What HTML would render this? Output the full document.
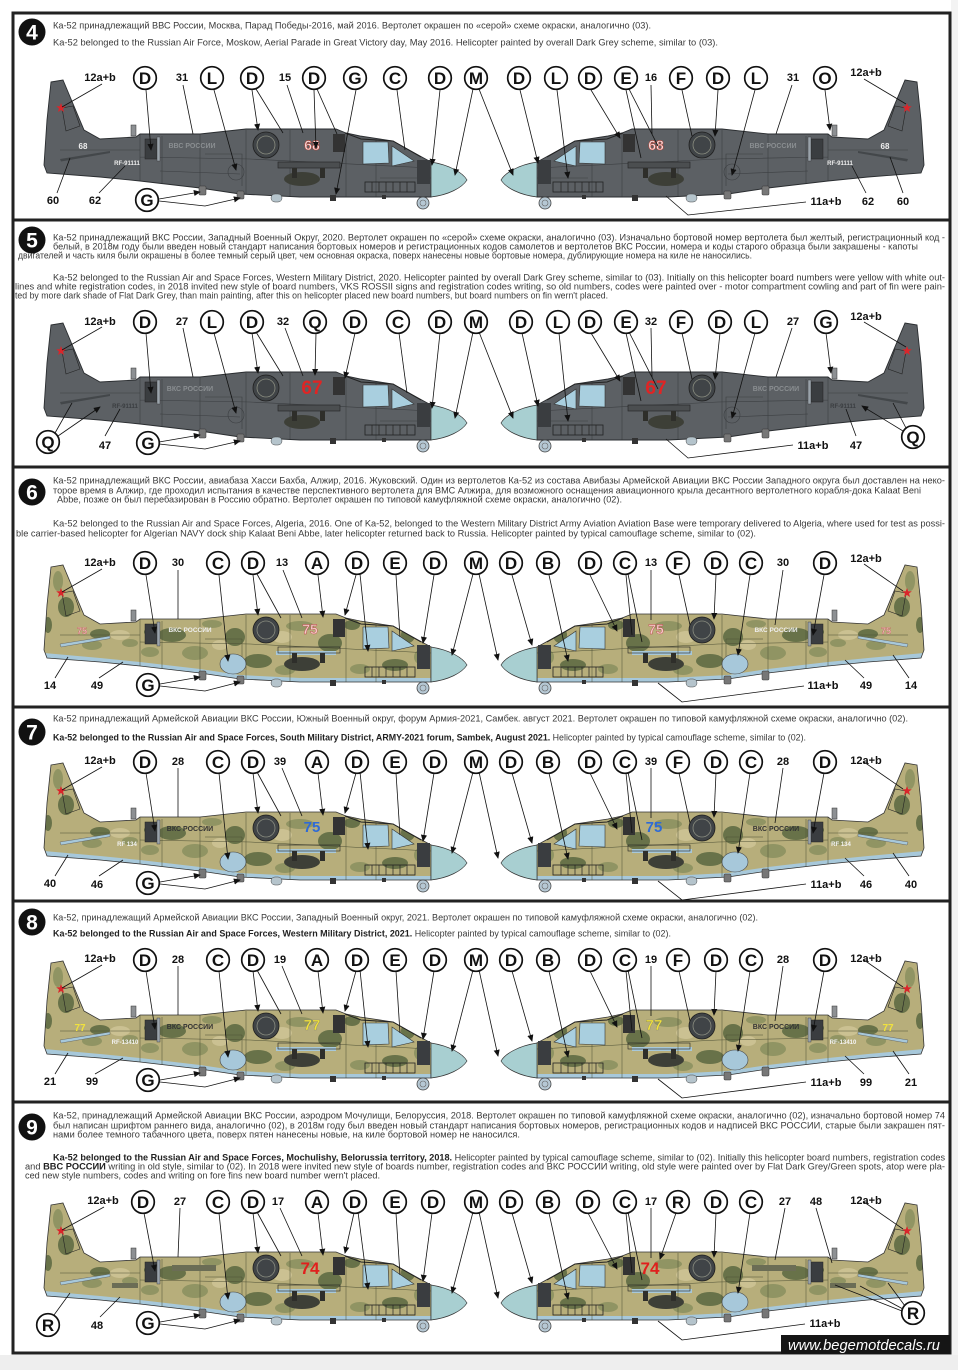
<!DOCTYPE html>
<html><head><meta charset="utf-8">
<style>
html,body{margin:0;padding:0;background:#fff;}
svg{display:block}
.t{font-family:"Liberation Sans","Noto Sans CJK SC",sans-serif;font-size:9px;fill:#3a3a3a}
.tb{font-weight:bold;fill:#222}
.c circle{fill:#fff;stroke:#111;stroke-width:1.7}
.c text{font-family:"Liberation Sans",sans-serif;font-weight:bold;font-size:17px;text-anchor:middle;fill:#111}
.n{font-family:"Liberation Sans",sans-serif;font-weight:bold;font-size:11px;text-anchor:middle;fill:#111}
.l{stroke:#111;stroke-width:0.8;fill:none}
.a{marker-end:url(#ar)}
.bd circle{fill:#111}
.bd text{font-family:"Liberation Sans",sans-serif;font-weight:bold;font-size:21px;fill:#fff;text-anchor:middle}
.bn{font-family:"Liberation Sans",sans-serif;font-weight:bold;text-anchor:middle}
.sm{font-family:"Liberation Sans",sans-serif;font-weight:bold;text-anchor:middle}
</style></head><body>
<svg width="958" height="1370" viewBox="0 0 958 1370" xmlns="http://www.w3.org/2000/svg">
<defs>
<marker id="ar" viewBox="0 0 8 8" refX="7" refY="4" markerWidth="7" markerHeight="7" orient="auto" markerUnits="userSpaceOnUse"><path d="M0,0.5 L8,4 L0,7.5 Z" fill="#111"/></marker>
<path id="ol" d="M51,82 L63,80 L84,130 L100,139 L136,137 L140,134 L200,134 L246,129 L336,129 L346,133 L360,136 L393,141 L420,156 L431,162 L431,197 L300,197 L240,194 L200,188 L140,181 L100,177 L47,173 L44,165 L47,120 Z"/>
<clipPath id="cl"><use href="#ol"/></clipPath>
<g id="det">
 <path d="M62,108 L73,106 L80,126 L66,131 Z" fill="none" stroke="#222" stroke-width="0.6"/>
 <rect x="131" y="125" width="5" height="11" fill="#8d9093" stroke="#333" stroke-width="0.5"/>
 <rect x="145" y="139" width="12" height="20" fill="#3a3d40" stroke="#222" stroke-width="0.5"/>
 <rect x="157" y="137" width="3" height="24" fill="#9aa3ab" stroke="#333" stroke-width="0.4"/>
 <circle cx="266" cy="145" r="13" fill="#404447" stroke="#1e1e1e" stroke-width="0.8"/>
 <circle cx="266" cy="145" r="9" fill="none" stroke="#8a8d80" stroke-width="0.8"/>
 <rect x="333" y="134" width="12" height="18" fill="#333"/>
 <rect x="278" y="162" width="62" height="6" fill="none" stroke="#222" stroke-width="0.6"/>
 <ellipse cx="302" cy="179" rx="18" ry="7" fill="#3d3f37"/>
 <rect x="292" y="168" width="5" height="10" fill="#2e2e2a"/>
 <rect x="320" y="168" width="5" height="10" fill="#2e2e2a"/>
 <rect x="365" y="182" width="50" height="10" fill="none" stroke="#222" stroke-width="0.8"/>
 <path d="M372,182 V192 M379,182 V192 M386,182 V192 M393,182 V192 M400,182 V192 M407,182 V192" stroke="#222" stroke-width="0.7"/>
 <rect x="417" y="160" width="13" height="24" fill="#3a3d40"/>
 <path d="M345,133 L361,139 L393,141 L421,157" fill="none" stroke="#222" stroke-width="1"/>
 <path d="M363,142 L388,142 L389,163 L363,164 Z" fill="#a9cfdf" stroke="#333" stroke-width="0.6"/>
 <path d="M392,146 L414,161 L392,166 Z" fill="#a9cfdf" stroke="#333" stroke-width="0.6"/>
 <path d="M431,162 C450,165 463,173 467,180 C462,188 448,195 431,197 Z" fill="#a8cfd1" stroke="#333" stroke-width="0.7"/>
 <rect x="199" y="186" width="7" height="9" rx="1" fill="#777" stroke="#333" stroke-width="0.5"/>
 <rect x="237" y="191" width="7" height="8" rx="1" fill="#777" stroke="#333" stroke-width="0.5"/>
 <rect x="271" y="194" width="11" height="8" rx="4" fill="#b5c4cc" stroke="#444" stroke-width="0.5"/>
 <rect x="330" y="195" width="6" height="6" fill="#333"/>
 <rect x="382" y="195" width="4" height="4" fill="#333"/>
 <circle cx="423" cy="203" r="6" fill="#b6c8d4" stroke="#444" stroke-width="0.8"/>
 <circle cx="423" cy="203" r="3" fill="none" stroke="#666" stroke-width="0.6"/>
 <polygon points="61,103 62.2,106.3 65.8,106.4 63,108.5 64,112 61,110 58,112 59,108.5 56.2,106.4 59.8,106.3" fill="#d9262b"/>
</g>
<g id="hg">
 <use href="#ol" fill="#5c6064"/>
 <g clip-path="url(#cl)" fill="none" stroke="#3b3e41" stroke-width="0.6">
  <path d="M140,134 V182 M162,136 V184 M200,134 V188 M246,130 V194 M290,130 V197 M346,133 V197 M376,140 V197 M60,150 H140 M140,157 L250,159 L431,168 M160,171 L240,174 M205,154 H242 V186 M380,178 H431"/>
  <circle cx="236" cy="172" r="8"/>
  <rect x="278" y="162" width="62" height="6" fill="#4b4e50" stroke="none"/>
 </g>
 <path d="M60,159 L110,151 L110,153 L61,161.5 Z" fill="#43474a"/>
 <use href="#ol" fill="none" stroke="#2a2d30" stroke-width="0.9"/>
 <use href="#det"/>
</g>
<g id="hc">
 <use href="#ol" fill="#b7ae7b"/>
 <g clip-path="url(#cl)">
  <g fill="#cbc192">
   <ellipse cx="120" cy="150" rx="10" ry="5"/><ellipse cx="282" cy="152" rx="10" ry="6"/><ellipse cx="220" cy="160" rx="8" ry="5"/>
  </g>
  <g fill="#909463">
   <ellipse cx="58" cy="96" rx="5" ry="10"/><ellipse cx="92" cy="160" rx="10" ry="5"/><ellipse cx="150" cy="167" rx="9" ry="5"/>
   <ellipse cx="195" cy="168" rx="13" ry="7"/><ellipse cx="212" cy="139" rx="10" ry="4"/><ellipse cx="300" cy="141" rx="14" ry="5"/>
   <ellipse cx="374" cy="152" rx="10" ry="7"/><ellipse cx="360" cy="184" rx="10" ry="5"/><ellipse cx="130" cy="158" rx="8" ry="4"/>
   <ellipse cx="285" cy="185" rx="10" ry="5"/><ellipse cx="420" cy="172" rx="6" ry="7"/>
  </g>
  <g fill="#687249">
   <ellipse cx="66" cy="122" rx="8" ry="10"/><ellipse cx="100" cy="149" rx="10" ry="5"/><ellipse cx="172" cy="150" rx="14" ry="7"/>
   <ellipse cx="235" cy="152" rx="10" ry="9"/><ellipse cx="258" cy="176" rx="14" ry="7"/><ellipse cx="330" cy="158" rx="12" ry="9"/>
   <ellipse cx="395" cy="180" rx="13" ry="6"/><ellipse cx="408" cy="150" rx="7" ry="8"/><ellipse cx="48" cy="140" rx="4" ry="8"/>
   <ellipse cx="150" cy="147" rx="6" ry="4"/><ellipse cx="352" cy="140" rx="8" ry="5"/>
  </g>
  <path d="M44,168 L100,173 L140,177 L200,184 L240,190 L300,193 L431,193 L431,200 L40,200 Z" fill="#a7c8da"/>
  <rect x="276" y="166" width="60" height="4" fill="#a7c8da"/>
  <g fill="none" stroke="#4d5035" stroke-width="0.5">
   <path d="M140,134 V182 M162,136 V184 M200,134 V188 M246,130 V194 M290,130 V197 M346,133 V197 M376,140 V197 M60,150 H140 M140,157 L250,159 L431,168 M205,154 H242 V186"/>
  </g>
 </g>
 <path d="M60,159 L110,151 L110,153.5 L61,162 Z" fill="#a7c8da" stroke="#555" stroke-width="0.4"/>
 <ellipse cx="233" cy="179" rx="13" ry="10" fill="#a7c8da" stroke="#444" stroke-width="0.6"/>
 <use href="#ol" fill="none" stroke="#333" stroke-width="0.8"/>
 <use href="#det"/>
</g>
</defs>

<rect x="0" y="0" width="958" height="1370" fill="#fff"/>
<rect x="951" y="0" width="7" height="1370" fill="#f3f3f3"/>
<rect x="0" y="1355" width="958" height="15" fill="#eeeeee"/>
<rect x="13" y="13" width="937" height="1340" fill="#fff" stroke="#222" stroke-width="3"/>
<g stroke="#222" stroke-width="3">
 <line x1="13" y1="220" x2="950" y2="220"/>
 <line x1="13" y1="467" x2="950" y2="467"/>
 <line x1="13" y1="707" x2="950" y2="707"/>
 <line x1="13" y1="901" x2="950" y2="901"/>
 <line x1="13" y1="1102" x2="950" y2="1102"/>
</g>

<!-- Badges -->
<g class="bd">
 <circle cx="32" cy="32" r="13.5"/><text x="32" y="39.5">4</text>
 <circle cx="32" cy="240" r="13.5"/><text x="32" y="247.5">5</text>
 <circle cx="32" cy="492" r="13.5"/><text x="32" y="499.5">6</text>
 <circle cx="32" cy="732" r="13.5"/><text x="32" y="739.5">7</text>
 <circle cx="32" cy="922" r="13.5"/><text x="32" y="929.5">8</text>
 <circle cx="32" cy="1127" r="13.5"/><text x="32" y="1134.5">9</text>
</g>

<!-- Header texts -->
<g class="t">
<text x="53" y="28.5" textLength="598" lengthAdjust="spacingAndGlyphs">Ка-52 принадлежащий ВВС России, Москва, Парад Победы-2016, май 2016. Вертолет окрашен по «серой» схеме окраски, аналогично (03).</text>
<text x="53" y="45.5" textLength="665" lengthAdjust="spacingAndGlyphs">Ka-52 belonged to the Russian Air Force, Moskow, Aerial Parade in Great Victory day, May 2016. Helicopter painted by overall Dark Grey scheme, similar to (03).</text>

<text x="53" y="240.5" textLength="892" lengthAdjust="spacingAndGlyphs">Ка-52 принадлежащий ВКС России, Западный Военный Округ, 2020. Вертолет окрашен по «серой» схеме окраски, аналогично (03). Изначально бортовой номер вертолета был желтый, регистрационный код -</text>
<text x="53" y="249.5" textLength="865" lengthAdjust="spacingAndGlyphs">белый, в 2018м году были введен новый стандарт написания бортовых номеров и регистрационных кодов самолетов и вертолетов ВКС России, номера и коды старого образца были закрашены -  капоты</text>
<text x="18" y="258.5" textLength="734" lengthAdjust="spacingAndGlyphs">двигателей и часть киля были окрашены в более темный серый цвет, чем основная окраска, поверх нанесены новые бортовые номера, дублирующие номера на киле не наносились.</text>
<text x="53" y="280.5" textLength="892" lengthAdjust="spacingAndGlyphs">Ka-52 belonged to the Russian Air and Space Forces, Western Military District, 2020. Helicopter painted by overall Dark Grey scheme, similar to (03). Initially on this helicopter board numbers were yellow with white out-</text>
<text x="15" y="289.5" textLength="930" lengthAdjust="spacingAndGlyphs">lines and white registration codes, in 2018 invited new style of board numbers, VKS ROSSII signs and registration codes writing, so old numbers, codes were painted over -  motor compartment cowling and part of fin were pain-</text>
<text x="15" y="298.5" textLength="593" lengthAdjust="spacingAndGlyphs">ted by more dark shade of Flat Dark Grey, than main painting, after this on helicopter placed new board numbers, but board numbers on fin wern't placed.</text>

<text x="53" y="483.5" textLength="892" lengthAdjust="spacingAndGlyphs">Ка-52 принадлежащий ВКС России, авиабаза Хасси Бахба, Алжир, 2016. Жуковский. Один из вертолетов Ка-52 из состава Авибазы Армейской Авиации ВКС России Западного округа был доставлен на неко-</text>
<text x="53" y="493.5" textLength="868" lengthAdjust="spacingAndGlyphs">торое время в Алжир, где проходил испытания в качестве перспективного вертолета для ВМС Алжира, для возможного оснащения авиационного крыла десантного вертолетного корабля-дока Kalaat Beni</text>
<text x="57" y="502.5" textLength="565" lengthAdjust="spacingAndGlyphs">Abbe, позже он был перебазирован в Россию обратно. Вертолет окрашен по типовой камуфляжной схеме окраски, аналогично (02).</text>
<text x="53" y="526.5" textLength="892" lengthAdjust="spacingAndGlyphs">Ka-52 belonged to the Russian Air and Space Forces, Algeria, 2016. One of Ka-52, belonged to the Western Military District Army Aviation Aviation Base were temporary delivered to Algeria, where used for test as possi-</text>
<text x="16" y="536.5" textLength="740" lengthAdjust="spacingAndGlyphs">ble carrier-based helicopter for Algerian NAVY dock ship Kalaat Beni Abbe, later helicopter returned back to Russia. Helicopter painted by typical camouflage scheme, similar to (02).</text>

<text x="53" y="721.5" textLength="855" lengthAdjust="spacingAndGlyphs">Ка-52 принадлежащий Армейской Авиации ВКС России, Южный Военный округ, форум Армия-2021, Самбек. август 2021. Вертолет окрашен по типовой камуфляжной схеме окраски, аналогично (02).</text>
<text x="53" y="740.5" textLength="753" lengthAdjust="spacingAndGlyphs"><tspan class="tb">Ka-52 belonged to the Russian Air and Space Forces, South Military District, ARMY-2021 forum, Sambek, August 2021.</tspan> Helicopter painted by typical camouflage scheme, similar to (02).</text>

<text x="53" y="920.5" textLength="705" lengthAdjust="spacingAndGlyphs">Ка-52, принадлежащий Армейской Авиации ВКС России, Западный Военный округ,  2021. Вертолет окрашен по типовой камуфляжной схеме окраски, аналогично (02).</text>
<text x="53" y="936.5" textLength="618" lengthAdjust="spacingAndGlyphs"><tspan class="tb">Ka-52 belonged to the Russian Air and Space Forces, Western Military District, 2021.</tspan> Helicopter painted by typical camouflage scheme, similar to (02).</text>

<text x="53" y="1118.5" textLength="892" lengthAdjust="spacingAndGlyphs">Ка-52, принадлежащий Армейской Авиации ВКС России, аэродром Мочулищи, Белоруссия, 2018. Вертолет окрашен по типовой камуфляжной схеме окраски, аналогично (02), изначально бортовой номер 74</text>
<text x="53" y="1128.5" textLength="892" lengthAdjust="spacingAndGlyphs">был написан шрифтом раннего вида, аналогично (02), в 2018м году был введен новый стандарт написания бортовых номеров, регистрационных кодов и надписей ВКС РОССИИ, старые были закрашен пят-</text>
<text x="53" y="1137.5" textLength="467" lengthAdjust="spacingAndGlyphs">нами более темного табачного цвета, поверх пятен нанесены новые, на киле бортовой номер не наносился.</text>
<text x="53" y="1160.5" textLength="892" lengthAdjust="spacingAndGlyphs"><tspan class="tb">Ka-52 belonged to the Russian Air and Space Forces, Mochulishy, Belorussia territory, 2018.</tspan> Helicopter painted by typical camouflage scheme, similar to (02). Initially this helicopter  board numbers, registration codes</text>
<text x="25" y="1169.5" textLength="920" lengthAdjust="spacingAndGlyphs">and <tspan class="tb">BBC РОССИИ</tspan> writing in old style, similar to (02). In 2018 were invited new style of boards number, registration codes and ВКС РОССИИ writing, old style were painted over by Flat Dark Grey/Green spots, atop were pla-</text>
<text x="25" y="1178.5" textLength="355" lengthAdjust="spacingAndGlyphs">ced new style numbers, codes and writing on fore fins new board number wern't placed.</text>
</g>

<!-- ================= PANEL 4 ================= -->
<g>
<use href="#hg"/>
<use href="#hg" transform="translate(968,0) scale(-1,1)"/>
<text class="bn" x="312" y="150" font-size="14" fill="#f3dede" stroke="#c0392b" stroke-width="0.5">68</text>
<text class="bn" x="656" y="150" font-size="14" fill="#f3dede" stroke="#c0392b" stroke-width="0.5">68</text>
<text class="sm" x="83" y="149" font-size="8" fill="#eee">68</text>
<text class="sm" x="885" y="149" font-size="8" fill="#eee">68</text>
<text class="sm" x="127" y="165" font-size="6" fill="#eee">RF-91111</text>
<text class="sm" x="840" y="165" font-size="6" fill="#eee">RF-91111</text>
<text class="sm" x="192" y="148" font-size="7" fill="#8a8e91">ВВС РОССИИ</text>
<text class="sm" x="773" y="148" font-size="7" fill="#8a8e91">ВВС РОССИИ</text>
<g class="l">
 <path d="M102,84 L62,107"/><path class="a" d="M146,90 L151,150"/><path d="M183,85 L193,134"/><path class="a" d="M214,90 L236,170"/>
 <path class="a" d="M252,90 L258,130"/><path d="M256,89 L283,133"/><path d="M287,85 L303,133"/><path class="a" d="M314,90 L316,148"/>
 <path d="M317,89 L337,134"/><path class="a" d="M356,90 L336,194"/><path d="M397,90 L405,150"/><path class="a" d="M440,90 L432,165"/>
 <path class="a" d="M473,89 L455,175"/><path class="a" d="M479,89 L513,175"/><path d="M57,193 L70,158"/><path d="M99,193 L125,166"/>
 <path class="a" d="M159,199 L200,192"/><path class="a" d="M159,201 L205,206 L240,198"/>
 <path class="a" d="M520,90 L538,163"/><path class="a" d="M557,90 L568,178"/><path class="a" d="M591,90 L620,138"/><path d="M626,90 L641,158"/>
 <path d="M629,89 L658,146"/><path d="M651,85 L652,134"/><path d="M682,90 L692,136"/><path class="a" d="M718,90 L715,136"/>
 <path class="a" d="M755,90 L732,175"/><path d="M792,85 L776,134"/><path class="a" d="M825,90 L830,130"/><path d="M864,79 L906,104"/>
 <path d="M806,202 L688,215 L666,196"/><path d="M866,193 L852,166"/><path d="M903,193 L890,157"/>
</g>
<g class="c">
 <circle cx="145" cy="78" r="11.3"/><text x="145" y="84">D</text>
 <circle cx="212" cy="78" r="11.3"/><text x="212" y="84">L</text>
 <circle cx="252" cy="78" r="11.3"/><text x="252" y="84">D</text>
 <circle cx="314" cy="78" r="11.3"/><text x="314" y="84">D</text>
 <circle cx="355" cy="78" r="11.3"/><text x="355" y="84">G</text>
 <circle cx="395" cy="78" r="11.3"/><text x="395" y="84">C</text>
 <circle cx="440" cy="78" r="11.3"/><text x="440" y="84">D</text>
 <circle cx="476" cy="78" r="11.3"/><text x="476" y="84">M</text>
 <circle cx="519" cy="78" r="11.3"/><text x="519" y="84">D</text>
 <circle cx="556" cy="78" r="11.3"/><text x="556" y="84">L</text>
 <circle cx="590" cy="78" r="11.3"/><text x="590" y="84">D</text>
 <circle cx="626" cy="78" r="11.3"/><text x="626" y="84">E</text>
 <circle cx="681" cy="78" r="11.3"/><text x="681" y="84">F</text>
 <circle cx="718" cy="78" r="11.3"/><text x="718" y="84">D</text>
 <circle cx="756" cy="78" r="11.3"/><text x="756" y="84">L</text>
 <circle cx="825" cy="78" r="11.3"/><text x="825" y="84">O</text>
 <circle cx="147" cy="200" r="11.3"/><text x="147" y="206">G</text>
</g>
<g class="n">
 <text x="100" y="81">12a+b</text><text x="182" y="81">31</text><text x="285" y="81">15</text><text x="651" y="81">16</text><text x="793" y="81">31</text><text x="866" y="76">12a+b</text>
 <text x="53" y="204">60</text><text x="95" y="204">62</text><text x="826" y="205">11a+b</text><text x="868" y="205">62</text><text x="903" y="205">60</text>
</g>
</g>

<!-- ================= PANEL 5 ================= -->
<g transform="translate(0,243)">
<use href="#hg"/>
<use href="#hg" transform="translate(968,0) scale(-1,1)"/>
<text class="bn" x="312" y="151" font-size="19" fill="#e02424">67</text>
<text class="bn" x="656" y="151" font-size="19" fill="#e02424">67</text>
<text class="sm" x="190" y="148" font-size="7" fill="#8a8e91">ВКС РОССИИ</text>
<text class="sm" x="776" y="148" font-size="7" fill="#8a8e91">ВКС РОССИИ</text>
<text class="sm" x="125" y="165" font-size="6" fill="#3a3d40">RF-91111</text>
<text class="sm" x="843" y="165" font-size="6" fill="#3a3d40">RF-91111</text>
<g class="l">
 <path d="M102,84 L62,107"/><path class="a" d="M146,90 L151,150"/><path d="M183,85 L193,134"/><path class="a" d="M214,90 L236,170"/>
 <path class="a" d="M252,90 L258,130"/><path d="M256,89 L283,133"/><path d="M285,85 L303,133"/><path class="a" d="M316,90 L315,132"/>
 <path class="a" d="M355,90 L345,135"/><path d="M399,90 L407,150"/><path class="a" d="M440,90 L432,165"/>
 <path class="a" d="M473,89 L455,175"/><path class="a" d="M479,89 L513,175"/>
 <path d="M55,190 L72,160"/><path class="a" d="M58,193 L100,164"/><path d="M105,193 L120,166"/>
 <path class="a" d="M159,199 L200,192"/><path class="a" d="M159,201 L205,206 L240,198"/>
 <path class="a" d="M522,90 L538,163"/><path class="a" d="M559,90 L568,178"/><path class="a" d="M591,90 L620,138"/><path d="M626,90 L641,158"/>
 <path d="M629,89 L658,146"/><path d="M651,85 L652,134"/><path d="M682,90 L692,136"/><path class="a" d="M720,90 L715,136"/>
 <path class="a" d="M755,90 L732,175"/><path d="M792,85 L776,134"/><path class="a" d="M826,90 L831,130"/><path d="M864,79 L906,104"/>
 <path d="M793,202 L688,215 L666,196"/><path d="M856,193 L846,166"/><path d="M906,185 L893,160"/><path class="a" d="M903,188 L862,163"/>
</g>
<g class="c">
 <circle cx="145" cy="79" r="11.3"/><text x="145" y="85">D</text>
 <circle cx="212" cy="79" r="11.3"/><text x="212" y="85">L</text>
 <circle cx="252" cy="79" r="11.3"/><text x="252" y="85">D</text>
 <circle cx="315" cy="79" r="11.3"/><text x="315" y="85">Q</text>
 <circle cx="355" cy="79" r="11.3"/><text x="355" y="85">D</text>
 <circle cx="398" cy="79" r="11.3"/><text x="398" y="85">C</text>
 <circle cx="440" cy="79" r="11.3"/><text x="440" y="85">D</text>
 <circle cx="476" cy="79" r="11.3"/><text x="476" y="85">M</text>
 <circle cx="521" cy="79" r="11.3"/><text x="521" y="85">D</text>
 <circle cx="558" cy="79" r="11.3"/><text x="558" y="85">L</text>
 <circle cx="590" cy="79" r="11.3"/><text x="590" y="85">D</text>
 <circle cx="626" cy="79" r="11.3"/><text x="626" y="85">E</text>
 <circle cx="681" cy="79" r="11.3"/><text x="681" y="85">F</text>
 <circle cx="720" cy="79" r="11.3"/><text x="720" y="85">D</text>
 <circle cx="756" cy="79" r="11.3"/><text x="756" y="85">L</text>
 <circle cx="826" cy="79" r="11.3"/><text x="826" y="85">G</text>
 <circle cx="48" cy="199" r="11.3"/><text x="48" y="205">Q</text>
 <circle cx="148" cy="200" r="11.3"/><text x="148" y="206">G</text>
 <circle cx="913" cy="194" r="11.3"/><text x="913" y="200">Q</text>
</g>
<g class="n">
 <text x="100" y="82">12a+b</text><text x="182" y="82">27</text><text x="283" y="82">32</text><text x="651" y="82">32</text><text x="793" y="82">27</text><text x="866" y="77">12a+b</text>
 <text x="105" y="206">47</text><text x="813" y="206">11a+b</text><text x="856" y="206">47</text>
</g>
</g>

<!-- ================= PANEL 6 ================= -->
<g transform="translate(0,485)">
<use href="#hc"/>
<use href="#hc" transform="translate(968,0) scale(-1,1)"/>
<text class="bn" x="310" y="149" font-size="14" fill="#f3c9c9" stroke="#b44" stroke-width="0.4">75</text>
<text class="bn" x="656" y="149" font-size="14" fill="#f3c9c9" stroke="#b44" stroke-width="0.4">75</text>
<text class="sm" x="82" y="149" font-size="9" fill="#f3c9c9" stroke="#b44" stroke-width="0.3">75</text>
<text class="sm" x="886" y="149" font-size="9" fill="#f3c9c9" stroke="#b44" stroke-width="0.3">75</text>
<text class="sm" x="190" y="147" font-size="6.5" fill="#eee">ВКС РОССИИ</text>
<text class="sm" x="776" y="147" font-size="6.5" fill="#eee">ВКС РОССИИ</text>
<g class="l">
 <path d="M102,84 L62,107"/><path class="a" d="M146,90 L155,148"/><path d="M178,85 L178,134"/><path class="a" d="M219,90 L228,176"/>
 <path class="a" d="M253,90 L258,130"/><path d="M257,89 L281,133"/><path d="M283,85 L302,133"/><path class="a" d="M318,90 L323,132"/>
 <path class="a" d="M356,90 L345,130"/><path class="a" d="M360,89 L368,166"/><path d="M396,90 L400,152"/><path class="a" d="M434,90 L423,158"/>
 <path class="a" d="M473,89 L452,170"/><path class="a" d="M479,89 L498,175"/>
 <path d="M55,193 L68,172"/><path d="M99,193 L123,177"/><path class="a" d="M160,199 L200,192"/><path class="a" d="M160,201 L205,206 L240,197"/>
 <path class="a" d="M512,90 L532,160"/><path class="a" d="M549,90 L568,176"/><path class="a" d="M590,90 L617,146"/><path d="M626,90 L632,150"/>
 <path d="M628,89 L642,157"/><path d="M651,85 L651,135"/><path d="M679,90 L690,140"/><path class="a" d="M716,90 L714,134"/>
 <path class="a" d="M750,90 L738,170"/><path d="M783,85 L775,140"/><path class="a" d="M824,90 L813,150"/><path d="M864,79 L903,106"/>
 <path d="M804,201 L682,217 L658,198"/><path d="M864,193 L845,175"/><path d="M909,193 L893,170"/>
</g>
<g class="c">
 <circle cx="145" cy="78" r="11.3"/><text x="145" y="84">D</text>
 <circle cx="218" cy="78" r="11.3"/><text x="218" y="84">C</text>
 <circle cx="253" cy="78" r="11.3"/><text x="253" y="84">D</text>
 <circle cx="317" cy="78" r="11.3"/><text x="317" y="84">A</text>
 <circle cx="357" cy="78" r="11.3"/><text x="357" y="84">D</text>
 <circle cx="395" cy="78" r="11.3"/><text x="395" y="84">E</text>
 <circle cx="435" cy="78" r="11.3"/><text x="435" y="84">D</text>
 <circle cx="476" cy="78" r="11.3"/><text x="476" y="84">M</text>
 <circle cx="511" cy="78" r="11.3"/><text x="511" y="84">D</text>
 <circle cx="548" cy="78" r="11.3"/><text x="548" y="84">B</text>
 <circle cx="590" cy="78" r="11.3"/><text x="590" y="84">D</text>
 <circle cx="625" cy="78" r="11.3"/><text x="625" y="84">C</text>
 <circle cx="678" cy="78" r="11.3"/><text x="678" y="84">F</text>
 <circle cx="716" cy="78" r="11.3"/><text x="716" y="84">D</text>
 <circle cx="751" cy="78" r="11.3"/><text x="751" y="84">C</text>
 <circle cx="825" cy="78" r="11.3"/><text x="825" y="84">D</text>
 <circle cx="148" cy="200" r="11.3"/><text x="148" y="206">G</text>
</g>
<g class="n">
 <text x="100" y="81">12a+b</text><text x="178" y="81">30</text><text x="282" y="81">13</text><text x="651" y="81">13</text><text x="783" y="81">30</text><text x="866" y="77">12a+b</text>
 <text x="50" y="204">14</text><text x="97" y="204">49</text><text x="823" y="204">11a+b</text><text x="866" y="204">49</text><text x="911" y="204">14</text>
</g>
</g>

<!-- ================= PANEL 7 ================= -->
<g transform="translate(0,683)">
<use href="#hc"/>
<use href="#hc" transform="translate(968,0) scale(-1,1)"/>
<text class="bn" x="312" y="149" font-size="15" fill="#2e6bd6">75</text>
<text class="bn" x="654" y="149" font-size="15" fill="#2e6bd6">75</text>
<text class="sm" x="190" y="148" font-size="7" fill="#333">ВКС РОССИИ</text>
<text class="sm" x="776" y="148" font-size="7" fill="#333">ВКС РОССИИ</text>
<text class="sm" x="127" y="163" font-size="6" fill="#f4f4f4">RF 134</text>
<text class="sm" x="841" y="163" font-size="6" fill="#f4f4f4">RF 134</text>
<g class="l">
 <path d="M102,84 L62,107"/><path class="a" d="M146,90 L155,148"/><path d="M178,85 L178,134"/><path class="a" d="M219,90 L228,176"/>
 <path class="a" d="M253,90 L258,130"/><path d="M257,89 L281,133"/><path d="M282,85 L302,133"/><path class="a" d="M318,90 L323,132"/>
 <path class="a" d="M356,90 L345,130"/><path class="a" d="M360,89 L368,166"/><path d="M396,90 L400,152"/><path class="a" d="M434,90 L423,158"/>
 <path class="a" d="M473,89 L452,170"/><path class="a" d="M479,89 L498,175"/>
 <path d="M55,193 L68,172"/><path d="M99,193 L123,177"/><path class="a" d="M160,199 L200,192"/><path class="a" d="M160,201 L205,206 L240,197"/>
 <path class="a" d="M512,90 L532,160"/><path class="a" d="M549,90 L568,176"/><path class="a" d="M590,90 L617,146"/><path d="M626,90 L632,150"/>
 <path d="M628,89 L642,157"/><path d="M651,85 L651,135"/><path d="M679,90 L690,140"/><path class="a" d="M716,90 L714,134"/>
 <path class="a" d="M750,90 L738,170"/><path d="M783,85 L775,140"/><path class="a" d="M824,90 L813,150"/><path d="M864,79 L903,106"/>
 <path d="M806,201 L682,217 L658,198"/><path d="M864,193 L845,175"/><path d="M909,193 L893,170"/>
</g>
<g class="c">
 <circle cx="145" cy="79" r="11.3"/><text x="145" y="85">D</text>
 <circle cx="218" cy="79" r="11.3"/><text x="218" y="85">C</text>
 <circle cx="253" cy="79" r="11.3"/><text x="253" y="85">D</text>
 <circle cx="317" cy="79" r="11.3"/><text x="317" y="85">A</text>
 <circle cx="357" cy="79" r="11.3"/><text x="357" y="85">D</text>
 <circle cx="395" cy="79" r="11.3"/><text x="395" y="85">E</text>
 <circle cx="435" cy="79" r="11.3"/><text x="435" y="85">D</text>
 <circle cx="476" cy="79" r="11.3"/><text x="476" y="85">M</text>
 <circle cx="511" cy="79" r="11.3"/><text x="511" y="85">D</text>
 <circle cx="548" cy="79" r="11.3"/><text x="548" y="85">B</text>
 <circle cx="590" cy="79" r="11.3"/><text x="590" y="85">D</text>
 <circle cx="625" cy="79" r="11.3"/><text x="625" y="85">C</text>
 <circle cx="678" cy="79" r="11.3"/><text x="678" y="85">F</text>
 <circle cx="716" cy="79" r="11.3"/><text x="716" y="85">D</text>
 <circle cx="751" cy="79" r="11.3"/><text x="751" y="85">C</text>
 <circle cx="825" cy="79" r="11.3"/><text x="825" y="85">D</text>
 <circle cx="148" cy="200" r="11.3"/><text x="148" y="206">G</text>
</g>
<g class="n">
 <text x="100" y="81">12a+b</text><text x="178" y="82">28</text><text x="280" y="82">39</text><text x="651" y="82">39</text><text x="783" y="82">28</text><text x="866" y="81">12a+b</text>
 <text x="50" y="204">40</text><text x="97" y="205">46</text><text x="826" y="205">11a+b</text><text x="866" y="205">46</text><text x="911" y="205">40</text>
</g>
</g>

<!-- ================= PANEL 8 ================= -->
<g transform="translate(0,881)">
<use href="#hc"/>
<use href="#hc" transform="translate(968,0) scale(-1,1)"/>
<text class="bn" x="312" y="149" font-size="15" fill="#f1e23c" stroke="#776" stroke-width="0.3">77</text>
<text class="bn" x="654" y="149" font-size="15" fill="#f1e23c" stroke="#776" stroke-width="0.3">77</text>
<text class="sm" x="80" y="150" font-size="10" fill="#f1e23c">77</text>
<text class="sm" x="888" y="150" font-size="10" fill="#f1e23c">77</text>
<text class="sm" x="190" y="148" font-size="7" fill="#333">ВКС РОССИИ</text>
<text class="sm" x="776" y="148" font-size="7" fill="#333">ВКС РОССИИ</text>
<text class="sm" x="125" y="163" font-size="6" fill="#f4f4f4">RF-13410</text>
<text class="sm" x="843" y="163" font-size="6" fill="#f4f4f4">RF-13410</text>
<g class="l">
 <path d="M102,84 L62,107"/><path class="a" d="M146,90 L155,148"/><path d="M178,85 L178,134"/><path class="a" d="M219,90 L228,176"/>
 <path class="a" d="M253,90 L258,130"/><path d="M257,89 L281,133"/><path d="M282,85 L302,133"/><path class="a" d="M318,90 L323,132"/>
 <path class="a" d="M356,90 L345,130"/><path class="a" d="M360,89 L368,166"/><path d="M396,90 L400,152"/><path class="a" d="M434,90 L423,158"/>
 <path class="a" d="M473,89 L452,170"/><path class="a" d="M479,89 L498,175"/>
 <path d="M55,193 L68,172"/><path d="M95,193 L123,177"/><path class="a" d="M160,199 L200,192"/><path class="a" d="M160,201 L205,206 L240,197"/>
 <path class="a" d="M512,90 L532,160"/><path class="a" d="M549,90 L568,176"/><path class="a" d="M590,90 L617,146"/><path d="M626,90 L632,150"/>
 <path d="M628,89 L642,157"/><path d="M651,85 L651,135"/><path d="M679,90 L690,140"/><path class="a" d="M716,90 L714,134"/>
 <path class="a" d="M750,90 L738,170"/><path d="M783,85 L775,140"/><path class="a" d="M824,90 L813,150"/><path d="M864,79 L903,106"/>
 <path d="M806,201 L682,217 L658,198"/><path d="M864,193 L845,175"/><path d="M909,193 L893,170"/>
</g>
<g class="c">
 <circle cx="145" cy="79" r="11.3"/><text x="145" y="85">D</text>
 <circle cx="218" cy="79" r="11.3"/><text x="218" y="85">C</text>
 <circle cx="253" cy="79" r="11.3"/><text x="253" y="85">D</text>
 <circle cx="317" cy="79" r="11.3"/><text x="317" y="85">A</text>
 <circle cx="357" cy="79" r="11.3"/><text x="357" y="85">D</text>
 <circle cx="395" cy="79" r="11.3"/><text x="395" y="85">E</text>
 <circle cx="435" cy="79" r="11.3"/><text x="435" y="85">D</text>
 <circle cx="476" cy="79" r="11.3"/><text x="476" y="85">M</text>
 <circle cx="511" cy="79" r="11.3"/><text x="511" y="85">D</text>
 <circle cx="548" cy="79" r="11.3"/><text x="548" y="85">B</text>
 <circle cx="590" cy="79" r="11.3"/><text x="590" y="85">D</text>
 <circle cx="625" cy="79" r="11.3"/><text x="625" y="85">C</text>
 <circle cx="678" cy="79" r="11.3"/><text x="678" y="85">F</text>
 <circle cx="716" cy="79" r="11.3"/><text x="716" y="85">D</text>
 <circle cx="751" cy="79" r="11.3"/><text x="751" y="85">C</text>
 <circle cx="825" cy="79" r="11.3"/><text x="825" y="85">D</text>
 <circle cx="148" cy="199" r="11.3"/><text x="148" y="205">G</text>
</g>
<g class="n">
 <text x="100" y="81">12a+b</text><text x="178" y="82">28</text><text x="280" y="82">19</text><text x="651" y="82">19</text><text x="783" y="82">28</text><text x="866" y="81">12a+b</text>
 <text x="50" y="204">21</text><text x="92" y="204">99</text><text x="826" y="205">11a+b</text><text x="866" y="205">99</text><text x="911" y="205">21</text>
</g>
</g>

<!-- ================= PANEL 9 ================= -->
<g transform="translate(0,1123)">
<use href="#hc"/>
<use href="#hc" transform="translate(968,0) scale(-1,1)"/>
<text class="bn" x="310" y="151" font-size="17" fill="#e0201d">74</text>
<text class="bn" x="650" y="151" font-size="17" fill="#e0201d">74</text>
<rect x="172" y="142" width="44" height="6" fill="#6b6d55"/>
<rect x="752" y="142" width="44" height="6" fill="#6b6d55"/>
<rect x="112" y="160" width="26" height="5" fill="#6b6d55"/>
<rect x="830" y="160" width="26" height="5" fill="#6b6d55"/>
<g class="l">
 <path d="M104,84 L62,107"/><path class="a" d="M144,90 L155,148"/><path d="M180,85 L178,134"/><path class="a" d="M219,90 L228,176"/>
 <path class="a" d="M253,90 L258,130"/><path d="M257,89 L281,133"/><path d="M280,85 L302,133"/><path class="a" d="M318,90 L323,132"/>
 <path class="a" d="M354,90 L345,130"/><path class="a" d="M358,89 L368,166"/><path d="M396,90 L400,152"/><path class="a" d="M432,90 L423,158"/>
 <path class="a" d="M473,89 L452,170"/><path class="a" d="M479,89 L498,175"/>
 <path d="M54,192 L70,170"/><path d="M100,194 L120,174"/><path class="a" d="M160,199 L200,192"/><path class="a" d="M160,201 L205,206 L240,197"/>
 <path class="a" d="M512,90 L532,160"/><path class="a" d="M549,90 L568,176"/><path class="a" d="M588,90 L617,146"/><path d="M626,90 L632,150"/>
 <path d="M628,89 L642,157"/><path d="M651,85 L651,135"/><path class="a" d="M676,90 L660,136"/><path class="a" d="M716,90 L714,134"/>
 <path class="a" d="M750,90 L738,170"/><path d="M785,85 L775,137"/><path d="M816,85 L832,140"/><path d="M864,79 L903,106"/>
 <path d="M805,201 L682,217 L658,198"/>
 <path d="M905,183 L888,160"/><path d="M903,186 L860,163"/><path d="M902,188 L835,162"/>
</g>
<g class="c">
 <circle cx="143" cy="79" r="11.3"/><text x="143" y="85">D</text>
 <circle cx="218" cy="79" r="11.3"/><text x="218" y="85">C</text>
 <circle cx="253" cy="79" r="11.3"/><text x="253" y="85">D</text>
 <circle cx="317" cy="79" r="11.3"/><text x="317" y="85">A</text>
 <circle cx="355" cy="79" r="11.3"/><text x="355" y="85">D</text>
 <circle cx="395" cy="79" r="11.3"/><text x="395" y="85">E</text>
 <circle cx="433" cy="79" r="11.3"/><text x="433" y="85">D</text>
 <circle cx="476" cy="79" r="11.3"/><text x="476" y="85">M</text>
 <circle cx="511" cy="79" r="11.3"/><text x="511" y="85">D</text>
 <circle cx="548" cy="79" r="11.3"/><text x="548" y="85">B</text>
 <circle cx="588" cy="79" r="11.3"/><text x="588" y="85">D</text>
 <circle cx="625" cy="79" r="11.3"/><text x="625" y="85">C</text>
 <circle cx="678" cy="79" r="11.3"/><text x="678" y="85">R</text>
 <circle cx="716" cy="79" r="11.3"/><text x="716" y="85">D</text>
 <circle cx="751" cy="79" r="11.3"/><text x="751" y="85">C</text>
 <circle cx="48" cy="202" r="11.3"/><text x="48" y="208">R</text>
 <circle cx="148" cy="200" r="11.3"/><text x="148" y="206">G</text>
 <circle cx="913" cy="190" r="11.3"/><text x="913" y="196">R</text>
</g>
<g class="n">
 <text x="103" y="81">12a+b</text><text x="180" y="82">27</text><text x="278" y="82">17</text><text x="651" y="82">17</text><text x="785" y="82">27</text><text x="816" y="82">48</text><text x="866" y="81">12a+b</text>
 <text x="97" y="206">48</text><text x="825" y="204">11a+b</text>
</g>
</g>

<!-- Footer -->
<rect x="781" y="1335" width="169" height="19" fill="#151515"/>
<text x="788" y="1350" font-family="Liberation Sans, sans-serif" font-style="italic" font-size="14.5" fill="#ffffff" textLength="152" lengthAdjust="spacingAndGlyphs">www.begemotdecals.ru</text>
</svg>
</body></html>
